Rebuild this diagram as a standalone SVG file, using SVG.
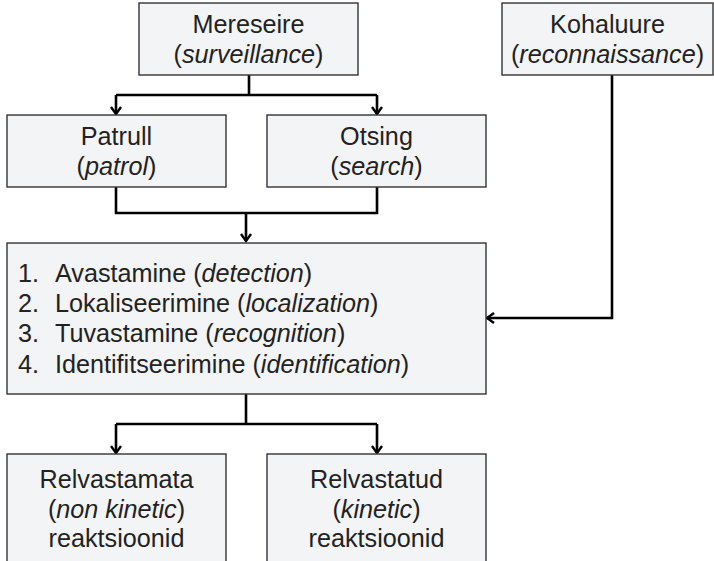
<svg xmlns="http://www.w3.org/2000/svg" width="714" height="561" viewBox="0 0 714 561">
<style>
.box{fill:#f3f4f6;stroke:#333;stroke-width:1.4}
.t{font-family:"Liberation Sans",Arial,sans-serif;font-size:25.2px;fill:#222}
.c{text-anchor:middle}
.i{font-style:italic}
.ln{fill:none;stroke:#000;stroke-width:2.6}
</style>
<defs>
<marker id="ah" viewBox="0 0 12 12" refX="10" refY="6" markerWidth="12" markerHeight="12" markerUnits="userSpaceOnUse" orient="auto">
<path d="M3,1 L10,6 L3,11" fill="none" stroke="#000" stroke-width="2.4"/>
</marker>
</defs>
<g id="connectors">
<path class="ln" d="M249,75 V95"/>
<path class="ln" d="M116,95 H377"/>
<path class="ln" d="M116,95 V114" marker-end="url(#ah)"/>
<path class="ln" d="M377,95 V114" marker-end="url(#ah)"/>
<path class="ln" d="M116,187 V213 H377 V187"/>
<path class="ln" d="M246,213 V241" marker-end="url(#ah)"/>
<path class="ln" d="M612,75 V318 H487" marker-end="url(#ah)"/>
<path class="ln" d="M246,394 V424"/>
<path class="ln" d="M116,424 H377"/>
<path class="ln" d="M116,424 V453" marker-end="url(#ah)"/>
<path class="ln" d="M377,424 V453" marker-end="url(#ah)"/>
</g>
<g id="mereseire">
<rect class="box" x="139" y="3" width="219" height="72"/>
<text class="t c" x="248.5" y="33">Mereseire</text>
<text class="t c" x="248.5" y="63">(<tspan class="i">surveillance</tspan>)</text>
</g>
<g id="kohaluure">
<rect class="box" x="502" y="3" width="211" height="72"/>
<text class="t c" x="607.5" y="33">Kohaluure</text>
<text class="t c" x="607.5" y="63">(<tspan class="i">reconnaissance</tspan>)</text>
</g>
<g id="patrull">
<rect class="box" x="7" y="115" width="219" height="72"/>
<text class="t c" x="116.5" y="145">Patrull</text>
<text class="t c" x="116.5" y="175">(<tspan class="i">patrol</tspan>)</text>
</g>
<g id="otsing">
<rect class="box" x="267" y="115" width="219" height="72"/>
<text class="t c" x="376.5" y="145">Otsing</text>
<text class="t c" x="376.5" y="175">(<tspan class="i">search</tspan>)</text>
</g>
<g id="steps">
<rect class="box" x="7" y="243" width="479" height="151"/>
<text class="t" x="18" y="282">1.</text>
<text class="t" x="55" y="282">Avastamine (<tspan class="i">detection</tspan>)</text>
<text class="t" x="18" y="312">2.</text>
<text class="t" x="55" y="312">Lokaliseerimine (<tspan class="i">localization</tspan>)</text>
<text class="t" x="18" y="342">3.</text>
<text class="t" x="55" y="342">Tuvastamine (<tspan class="i">recognition</tspan>)</text>
<text class="t" x="18" y="373">4.</text>
<text class="t" x="55" y="373">Identifitseerimine (<tspan class="i">identification</tspan>)</text>
</g>
<g id="relvastamata">
<rect class="box" x="7" y="454" width="219" height="120"/>
<text class="t c" x="116.5" y="488">Relvastamata</text>
<text class="t c" x="116.5" y="518">(<tspan class="i">non kinetic</tspan>)</text>
<text class="t c" x="116.5" y="547">reaktsioonid</text>
</g>
<g id="relvastatud">
<rect class="box" x="267" y="454" width="219" height="120"/>
<text class="t c" x="376.5" y="488">Relvastatud</text>
<text class="t c" x="376.5" y="518">(<tspan class="i">kinetic</tspan>)</text>
<text class="t c" x="376.5" y="547">reaktsioonid</text>
</g>
</svg>
